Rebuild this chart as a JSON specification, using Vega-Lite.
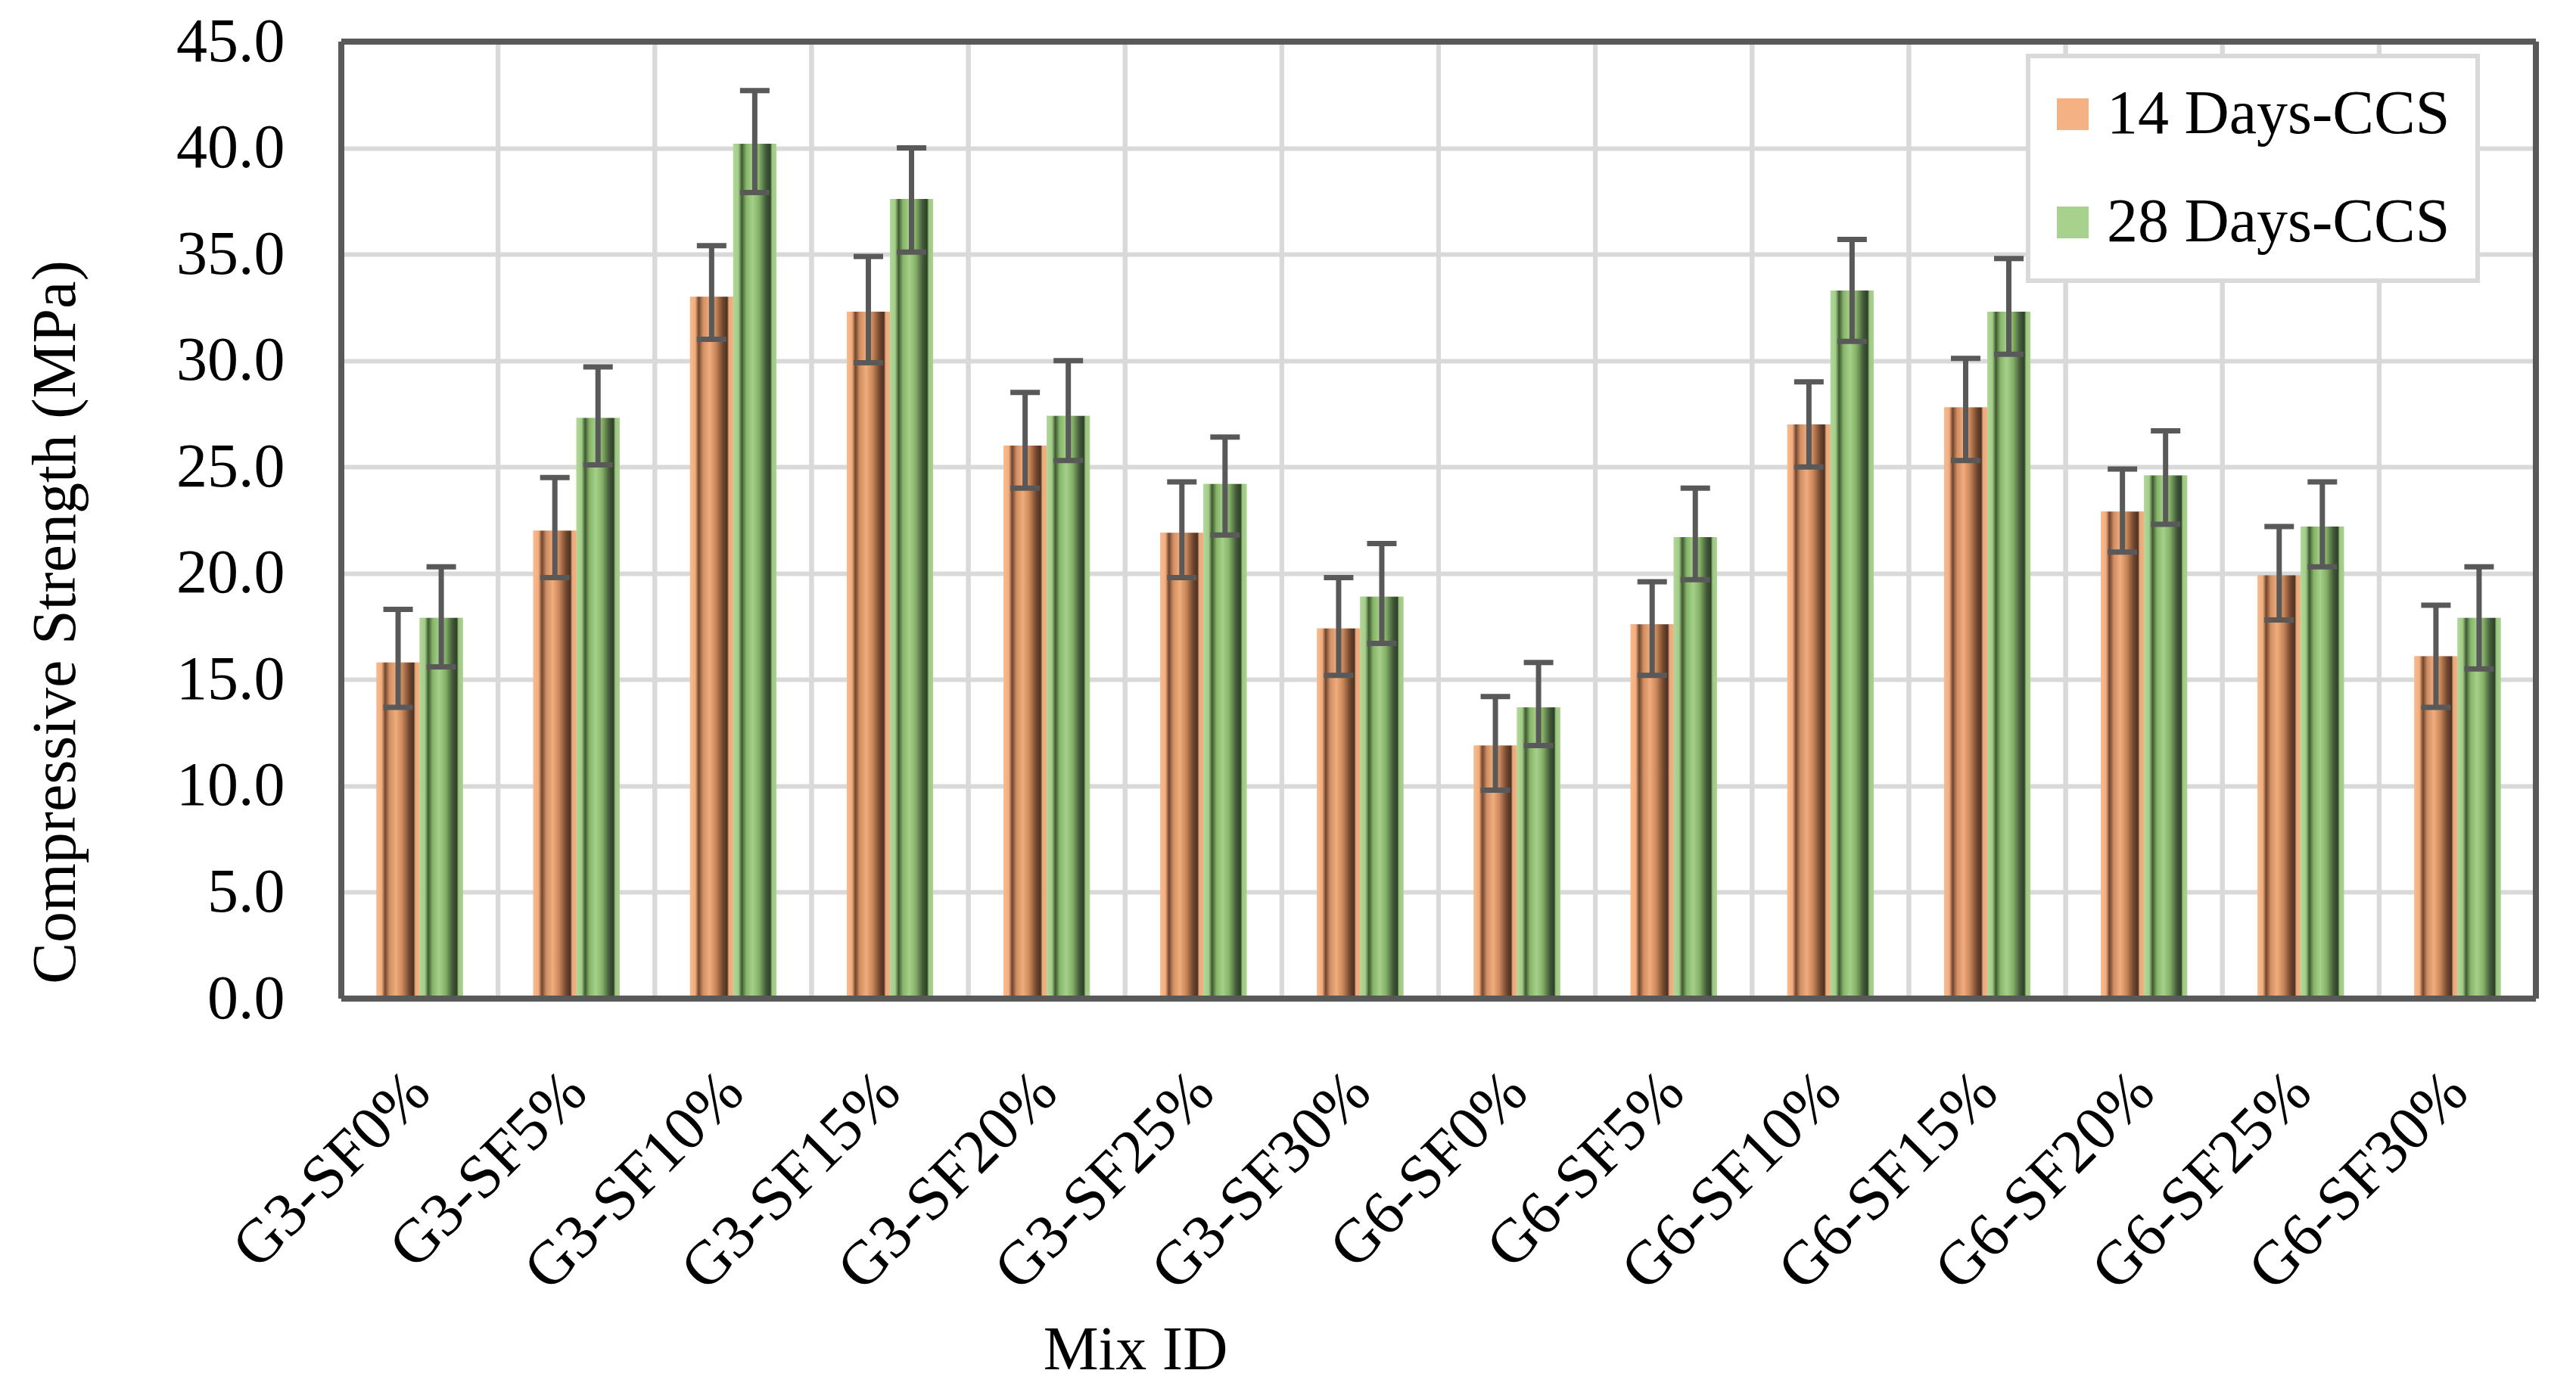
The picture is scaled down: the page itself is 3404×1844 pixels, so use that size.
{
  "$schema": "https://vega.github.io/schema/vega-lite/v6.json",
  "width": 2900,
  "height": 1265,
  "autosize": {"type": "none"},
  "padding": {"left": 451, "top": 55, "right": 53, "bottom": 524},
  "background": "white",
  "data": {
    "values": [
      {"mix": "G3-SF0%", "series": "14 Days-CCS", "v": 15.8, "lo": 13.7, "hi": 18.3},
      {"mix": "G3-SF0%", "series": "28 Days-CCS", "v": 17.9, "lo": 15.6, "hi": 20.3},
      {"mix": "G3-SF5%", "series": "14 Days-CCS", "v": 22.0, "lo": 19.8, "hi": 24.5},
      {"mix": "G3-SF5%", "series": "28 Days-CCS", "v": 27.3, "lo": 25.1, "hi": 29.7},
      {"mix": "G3-SF10%", "series": "14 Days-CCS", "v": 33.0, "lo": 31.0, "hi": 35.4},
      {"mix": "G3-SF10%", "series": "28 Days-CCS", "v": 40.2, "lo": 37.9, "hi": 42.7},
      {"mix": "G3-SF15%", "series": "14 Days-CCS", "v": 32.3, "lo": 29.9, "hi": 34.9},
      {"mix": "G3-SF15%", "series": "28 Days-CCS", "v": 37.6, "lo": 35.1, "hi": 40.0},
      {"mix": "G3-SF20%", "series": "14 Days-CCS", "v": 26.0, "lo": 24.0, "hi": 28.5},
      {"mix": "G3-SF20%", "series": "28 Days-CCS", "v": 27.4, "lo": 25.3, "hi": 30.0},
      {"mix": "G3-SF25%", "series": "14 Days-CCS", "v": 21.9, "lo": 19.8, "hi": 24.3},
      {"mix": "G3-SF25%", "series": "28 Days-CCS", "v": 24.2, "lo": 21.8, "hi": 26.4},
      {"mix": "G3-SF30%", "series": "14 Days-CCS", "v": 17.4, "lo": 15.2, "hi": 19.8},
      {"mix": "G3-SF30%", "series": "28 Days-CCS", "v": 18.9, "lo": 16.7, "hi": 21.4},
      {"mix": "G6-SF0%", "series": "14 Days-CCS", "v": 11.9, "lo": 9.8, "hi": 14.2},
      {"mix": "G6-SF0%", "series": "28 Days-CCS", "v": 13.7, "lo": 11.9, "hi": 15.8},
      {"mix": "G6-SF5%", "series": "14 Days-CCS", "v": 17.6, "lo": 15.2, "hi": 19.6},
      {"mix": "G6-SF5%", "series": "28 Days-CCS", "v": 21.7, "lo": 19.7, "hi": 24.0},
      {"mix": "G6-SF10%", "series": "14 Days-CCS", "v": 27.0, "lo": 25.0, "hi": 29.0},
      {"mix": "G6-SF10%", "series": "28 Days-CCS", "v": 33.3, "lo": 30.9, "hi": 35.7},
      {"mix": "G6-SF15%", "series": "14 Days-CCS", "v": 27.8, "lo": 25.3, "hi": 30.1},
      {"mix": "G6-SF15%", "series": "28 Days-CCS", "v": 32.3, "lo": 30.3, "hi": 34.8},
      {"mix": "G6-SF20%", "series": "14 Days-CCS", "v": 22.9, "lo": 21.0, "hi": 24.9},
      {"mix": "G6-SF20%", "series": "28 Days-CCS", "v": 24.6, "lo": 22.3, "hi": 26.7},
      {"mix": "G6-SF25%", "series": "14 Days-CCS", "v": 19.9, "lo": 17.8, "hi": 22.2},
      {"mix": "G6-SF25%", "series": "28 Days-CCS", "v": 22.2, "lo": 20.3, "hi": 24.3},
      {"mix": "G6-SF30%", "series": "14 Days-CCS", "v": 16.1, "lo": 13.7, "hi": 18.5},
      {"mix": "G6-SF30%", "series": "28 Days-CCS", "v": 17.9, "lo": 15.5, "hi": 20.3}
    ]
  },
  "config": {
    "font": "Liberation Serif",
    "view": {"stroke": null},
    "axis": {
      "labelFont": "Liberation Serif",
      "titleFont": "Liberation Serif",
      "labelColor": "black",
      "titleColor": "black",
      "labelFontSize": 82,
      "titleFontSize": 82,
      "titleFontWeight": "normal",
      "labelLimit": 1000,
      "domain": false,
      "ticks": false
    },
    "axisY": {
      "gridColor": "#d9d9d9",
      "gridWidth": 6,
      "labelPadding": 75,
      "titleX": -336,
      "titleY": 767,
      "titleBaseline": "bottom"
    },
    "axisX": {
      "grid": false,
      "labelAngle": -45,
      "labelAlign": "right",
      "labelBaseline": "middle",
      "labelPadding": 110,
      "titleX": 1049,
      "titleY": 489,
      "titleAlign": "center",
      "titleBaseline": "alphabetic"
    },
    "legend": {
      "orient": "none",
      "legendX": 2229,
      "legendY": 19,
      "fillColor": "white",
      "strokeColor": "#d9d9d9",
      "strokeWidth": 6,
      "padding": 36,
      "symbolType": "square",
      "symbolSize": 1764,
      "symbolStrokeWidth": 0,
      "symbolOffset": -18,
      "labelFont": "Liberation Serif",
      "labelFontSize": 82,
      "labelColor": "black",
      "labelOffset": 4,
      "rowPadding": 61,
      "labelLimit": 1000
    }
  },
  "layer": [
    {
      "mark": {"type": "rule", "color": "#d9d9d9", "strokeWidth": 6},
      "encoding": {
        "x": {"field": "mix", "type": "nominal", "sort": null, "bandPosition": 0, "title": "Mix ID", "scale": {"paddingInner": 0, "paddingOuter": 0}}
      }
    },
    {
      "mark": {"type": "bar"},
      "encoding": {
        "x": {"field": "mix", "type": "nominal", "sort": null, "title": "Mix ID", "scale": {"paddingInner": 0, "paddingOuter": 0}},
        "xOffset": {"field": "series", "type": "nominal", "scale": {"paddingInner": 0, "paddingOuter": 0.816}},
        "y": {"field": "v", "type": "quantitative", "title": "Compressive Strength (MPa)", "scale": {"domain": [0, 45], "nice": false}, "axis": {"values": [0, 5, 10, 15, 20, 25, 30, 35, 40, 45], "format": ".1f"}},
        "color": {
          "field": "series",
          "type": "nominal",
          "title": null,
          "scale": {"domain": ["14 Days-CCS", "28 Days-CCS"], "range": ["#f4b183", "#a9d18e"]}
        }
      }
    },
    {
      "transform": [{"filter": "datum.series == '14 Days-CCS'"}],
      "mark": {
        "type": "bar",
        "fill": {"gradient": "linear", "x1": 0, "y1": 0, "x2": 1, "y2": 0, "stops": [
          {"offset": 0, "color": "#f7bb8e"},
          {"offset": 0.12, "color": "#f2ad7e"},
          {"offset": 0.2, "color": "#6e4530"},
          {"offset": 0.3, "color": "#cf8e62"},
          {"offset": 0.45, "color": "#f0ac7c"},
          {"offset": 0.6, "color": "#c98659"},
          {"offset": 0.76, "color": "#70472f"},
          {"offset": 0.86, "color": "#4d3122"},
          {"offset": 0.9, "color": "#e9a97b"},
          {"offset": 1, "color": "#f4b183"}
        ]}
      },
      "encoding": {
        "x": {"field": "mix", "type": "nominal", "sort": null, "title": "Mix ID"},
        "xOffset": {"field": "series", "type": "nominal"},
        "y": {"field": "v", "type": "quantitative", "title": "Compressive Strength (MPa)"}
      }
    },
    {
      "transform": [{"filter": "datum.series == '28 Days-CCS'"}],
      "mark": {
        "type": "bar",
        "fill": {"gradient": "linear", "x1": 0, "y1": 0, "x2": 1, "y2": 0, "stops": [
          {"offset": 0, "color": "#b0d898"},
          {"offset": 0.12, "color": "#a3cc88"},
          {"offset": 0.2, "color": "#3f5832"},
          {"offset": 0.3, "color": "#85b468"},
          {"offset": 0.45, "color": "#a6d08a"},
          {"offset": 0.6, "color": "#84b066"},
          {"offset": 0.76, "color": "#42593a"},
          {"offset": 0.86, "color": "#2f4027"},
          {"offset": 0.9, "color": "#9cc781"},
          {"offset": 1, "color": "#a9d18e"}
        ]}
      },
      "encoding": {
        "x": {"field": "mix", "type": "nominal", "sort": null, "title": "Mix ID"},
        "xOffset": {"field": "series", "type": "nominal"},
        "y": {"field": "v", "type": "quantitative", "title": "Compressive Strength (MPa)"}
      }
    },
    {
      "mark": {"type": "rule", "color": "#595959", "strokeWidth": 7},
      "encoding": {
        "x": {"field": "mix", "type": "nominal", "sort": null, "title": "Mix ID"},
        "xOffset": {"field": "series", "type": "nominal"},
        "y": {"field": "lo", "type": "quantitative", "title": "Compressive Strength (MPa)"},
        "y2": {"field": "hi"}
      }
    },
    {
      "mark": {"type": "tick", "color": "#595959", "size": 39, "thickness": 7, "opacity": 1},
      "encoding": {
        "x": {"field": "mix", "type": "nominal", "sort": null, "title": "Mix ID"},
        "xOffset": {"field": "series", "type": "nominal"},
        "y": {"field": "hi", "type": "quantitative", "title": "Compressive Strength (MPa)"}
      }
    },
    {
      "mark": {"type": "tick", "color": "#595959", "size": 39, "thickness": 7, "opacity": 1},
      "encoding": {
        "x": {"field": "mix", "type": "nominal", "sort": null, "title": "Mix ID"},
        "xOffset": {"field": "series", "type": "nominal"},
        "y": {"field": "lo", "type": "quantitative", "title": "Compressive Strength (MPa)"}
      }
    },
    {
      "mark": {"type": "rule", "color": "#595959", "strokeWidth": 8},
      "encoding": {"y": {"datum": 0, "type": "quantitative"}}
    },
    {
      "mark": {"type": "rule", "color": "#595959", "strokeWidth": 8},
      "encoding": {"y": {"datum": 45, "type": "quantitative"}}
    },
    {
      "transform": [{"filter": "datum.mix == 'G3-SF0%'"}],
      "mark": {"type": "rule", "color": "#595959", "strokeWidth": 8},
      "encoding": {"x": {"field": "mix", "type": "nominal", "sort": null, "bandPosition": 0, "title": "Mix ID"}}
    },
    {
      "transform": [{"filter": "datum.mix == 'G6-SF30%'"}],
      "mark": {"type": "rule", "color": "#595959", "strokeWidth": 8},
      "encoding": {"x": {"field": "mix", "type": "nominal", "sort": null, "bandPosition": 1, "title": "Mix ID"}}
    }
  ]
}
